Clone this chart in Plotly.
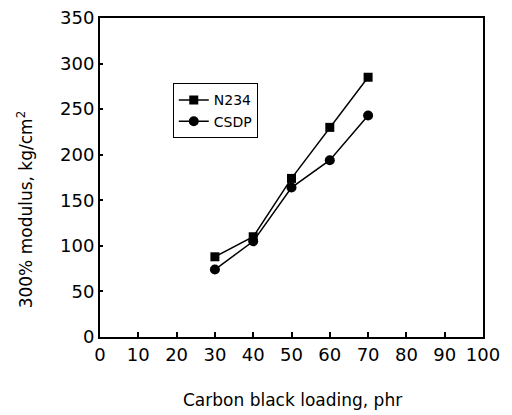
import plotly.graph_objects as go

loading = [30, 40, 50, 60, 70]
n234 = [88, 110, 174, 230, 285]
csdp = [74, 105, 164, 194, 243]
x_ticks = [0, 10, 20, 30, 40, 50, 60, 70, 80, 90, 100]
y_ticks = [0, 50, 100, 150, 200, 250, 300, 350]

FONT = "DejaVu Sans, Verdana, sans-serif"

fig = go.Figure()
fig.add_trace(go.Scatter(x=loading, y=n234, mode="lines+markers", name="N234",
                         line=dict(color="black", width=1.5),
                         marker=dict(symbol="square", size=9, color="black")))
fig.add_trace(go.Scatter(x=loading, y=csdp, mode="lines+markers", name="CSDP",
                         line=dict(color="black", width=1.5),
                         marker=dict(symbol="circle", size=10, color="black")))

fig.update_layout(
    width=512, height=415,
    margin=dict(l=92, r=37, t=10, b=86),
    paper_bgcolor="white", plot_bgcolor="white",
    font=dict(family=FONT, color="black", size=17),
    showlegend=True,
    legend=dict(x=0.19, y=0.795, xanchor="left", yanchor="top",
                bordercolor="black", borderwidth=1, bgcolor="white",
                font=dict(size=14, family=FONT), tracegroupgap=2,
                itemwidth=30),
    xaxis=dict(range=[0, 100], tickvals=x_ticks, ticks="inside", ticklen=5,
               tickwidth=1.5, tickcolor="black", showline=True, linecolor="black",
               linewidth=2, mirror=True, showgrid=False, zeroline=False,
               automargin=False, ticklabeloverflow="allow",
               tickfont=dict(size=18, family=FONT)),
    yaxis=dict(range=[0, 350], tickvals=y_ticks, ticks="inside", ticklen=3,
               tickwidth=1.5, tickcolor="black", showline=True, linecolor="black",
               linewidth=2, mirror=True, showgrid=False, zeroline=False,
               automargin=False, ticklabeloverflow="allow",
               tickfont=dict(size=18, family=FONT)),
    annotations=[
        dict(text="Carbon black loading, phr", xref="paper", yref="paper",
             x=0.503, y=-0.197, xanchor="center", yanchor="middle",
             showarrow=False, font=dict(size=17, family=FONT)),
        dict(text="300% modulus, kg/cm<sup>2</sup>", xref="paper", yref="paper",
             x=-0.196, y=0.40, xanchor="center", yanchor="middle", textangle=-90,
             showarrow=False, font=dict(size=17, family=FONT)),
    ],
)

fig.write_html("out.html")
